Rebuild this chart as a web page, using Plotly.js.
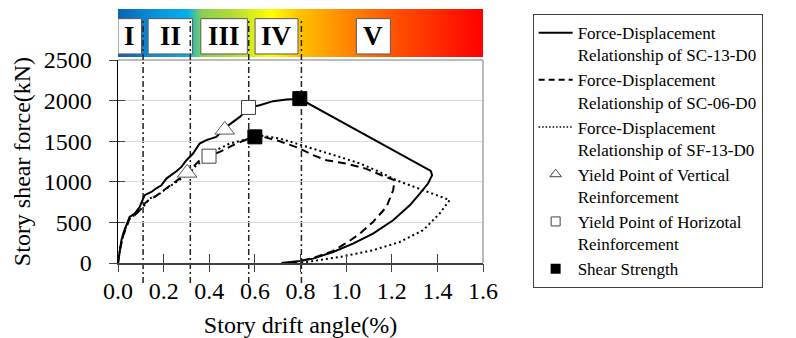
<!DOCTYPE html>
<html>
<head>
<meta charset="utf-8">
<script src="https://cdn.plot.ly/plotly-3.0.1.min.js"></script>
<style>html,body{margin:0;padding:0;background:#fff;}</style>
</head>
<body>
<div id="chart" style="width:796px;height:338px;"></div>
<script>
// ---- data ----
const sc13X = [0, 0.008, 0.015, 0.025, 0.037, 0.051, 0.073, 0.095, 0.117, 0.146, 0.168, 0.190, 0.212, 0.234, 0.256, 0.278, 0.300, 0.329, 0.358, 0.387, 0.431, 0.475, 0.534, 0.575, 0.621, 0.680, 0.738, 0.797, 1.371, 1.377, 1.359, 1.323, 1.279, 1.206, 1.118, 1.030, 0.943, 0.855, 0.797, 0.716];
const sc13Y = [0, 157, 280, 380, 465, 567, 609, 690, 835, 875, 920, 958, 1040, 1081, 1130, 1184, 1266, 1348, 1472, 1513, 1554, 1677, 1800, 1916, 1944, 1994, 2015, 2022, 1134, 1081, 979, 855, 711, 526, 362, 239, 136, 54, 25, 0];

const sc06X = [0, 0.010, 0.022, 0.037, 0.051, 0.073, 0.095, 0.117, 0.139, 0.161, 0.183, 0.212, 0.241, 0.270, 0.307, 0.329, 0.358, 0.402, 0.446, 0.504, 0.563, 0.600, 0.629, 0.709, 0.789, 0.855, 0.914, 1.001, 1.089, 1.147, 1.191, 1.213, 1.206, 1.177, 1.118, 1.060, 1.008, 0.943, 0.855, 0.760];
const sc06Y = [0, 180, 330, 444, 547, 588, 650, 732, 790, 814, 860, 917, 980, 1040, 1102, 1184, 1266, 1316, 1369, 1451, 1521, 1554, 1560, 1500, 1420, 1328, 1266, 1225, 1160, 1090, 1040, 1020, 896, 691, 506, 362, 259, 150, 60, 0];

const sf13X = [0, 0.010, 0.029, 0.051, 0.081, 0.110, 0.139, 0.175, 0.212, 0.270, 0.307, 0.344, 0.387, 0.431, 0.490, 0.578, 0.636, 0.709, 0.782, 0.870, 0.972, 1.061, 1.140, 1.220, 1.337, 1.454, 1.410, 1.337, 1.235, 1.118, 0.972, 0.800];
const sf13Y = [0, 197, 403, 547, 609, 690, 794, 835, 917, 1028, 1094, 1205, 1287, 1390, 1472, 1534, 1566, 1534, 1472, 1395, 1307, 1225, 1130, 1020, 896, 775, 609, 403, 259, 157, 74, 0];

const yieldVertX = [0.468, 0.303];
const yieldVertY = [1640, 1110];
const yieldHorzX = [0.572, 0.399];
const yieldHorzY = [1916, 1316];
const shearX = [0.797, 0.600];
const shearY = [2025, 1554];

const stageLabels = ['I', 'II', 'III', 'IV', 'V'];
const stageBoxX0 = [0.0, 0.132, 0.363, 0.601, 1.045];
const stageBoxX1 = [0.103, 0.327, 0.567, 0.789, 1.194];
const stageLines = [0.110, 0.317, 0.573, 0.804];

const legendNames = [
  'Force-Displacement<br>Relationship of SC-13-D0',
  'Force-Displacement<br>Relationship of SC-06-D0',
  'Force-Displacement<br>Relationship of SF-13-D0',
  'Yield Point of Vertical<br>Reinforcement',
  'Yield Point of Horizotal<br>Reinforcement',
  'Shear Strength'
];

const xTicks = [0, 0.2, 0.4, 0.6, 0.8, 1.0, 1.2, 1.4, 1.6];
const yTicks = [0, 500, 1000, 1500, 2000, 2500];

// ---- layout geometry ----
const FONT = 'Liberation Serif, Times New Roman, serif';
const mainTop = 0.799, barBottom = 0.811;
const boxY0 = 0.823, boxY1 = 0.962;
const lineTop = 0.957, lineBottom = -0.079;

const traces = [
  // gradient stage bar
  {x: [0, 1.6, 1.6, 0, 0], y: [0, 0, 1, 1, 0], xaxis: 'x', yaxis: 'y2', mode: 'none',
   fill: 'toself', fillcolor: '#ffc000',
   fillgradient: {type: 'horizontal', colorscale: [
     [0, '#0B62B4'], [0.10, '#0A90D8'], [0.19, '#00B0F0'], [0.23, '#8ACF52'],
     [0.32, '#B6DC36'], [0.42, '#FFFF00'], [0.50, '#FFC000'], [0.62, '#FF8A00'],
     [0.78, '#FF4A00'], [1, '#FF0000']]},
   hoverinfo: 'skip', showlegend: false},
  {x: sc13X, y: sc13Y, mode: 'lines', line: {color: '#000', width: 2}, showlegend: false, hoverinfo: 'skip'},
  {x: sc06X, y: sc06Y, mode: 'lines', line: {color: '#000', width: 2, dash: '8px,5px'}, showlegend: false, hoverinfo: 'skip'},
  {x: sf13X, y: sf13Y, mode: 'lines', line: {color: '#000', width: 2, dash: '2px,3px'}, showlegend: false, hoverinfo: 'skip'},
  {x: yieldVertX, y: yieldVertY, mode: 'markers', marker: {symbol: 'triangle-up', size: 17, color: '#fff', line: {color: '#595959', width: 1}}, showlegend: false, hoverinfo: 'skip'},
  {x: yieldHorzX, y: yieldHorzY, mode: 'markers', marker: {symbol: 'square', size: 14, color: '#fff', line: {color: '#404040', width: 1}}, showlegend: false, hoverinfo: 'skip'},
  {x: shearX, y: shearY, mode: 'markers', marker: {symbol: 'square', size: 14, color: '#000', line: {color: '#000', width: 1}}, showlegend: false, hoverinfo: 'skip'},
  // legend entries
  {x: [null], y: [null], mode: 'lines', name: legendNames[0], line: {color: '#000', width: 2}},
  {x: [null], y: [null], mode: 'lines', name: legendNames[1], line: {color: '#000', width: 2, dash: '6px,4px'}},
  {x: [null], y: [null], mode: 'lines', name: legendNames[2], line: {color: '#000', width: 1.5, dash: '1.5px,2px'}},
  {x: [null], y: [null], mode: 'markers', name: legendNames[3], marker: {symbol: 'triangle-up-open', size: 10, color: '#404040', line: {width: 1}}},
  {x: [null], y: [null], mode: 'markers', name: legendNames[4], marker: {symbol: 'square-open', size: 9, color: '#404040', line: {width: 1}}},
  {x: [null], y: [null], mode: 'markers', name: legendNames[5], marker: {symbol: 'square', size: 10, color: '#000'}},
  // carriers for crossing tick overlays
  {x: [null], y: [null], xaxis: 'x3', yaxis: 'y', showlegend: false, hoverinfo: 'skip'},
  {x: [null], y: [null], xaxis: 'x', yaxis: 'y3', showlegend: false, hoverinfo: 'skip'}
];

const shapes = [];
// plot frame (top and right, gray)
shapes.push({type: 'line', xref: 'paper', yref: 'paper', x0: 0, x1: 1, y0: mainTop, y1: mainTop, line: {color: '#a6a6a6', width: 1.5}, layer: 'above'});
shapes.push({type: 'line', xref: 'paper', yref: 'paper', x0: 1, x1: 1, y0: 0, y1: mainTop, line: {color: '#a6a6a6', width: 1.5}, layer: 'above'});
// stage boxes
for (let i = 0; i < stageLabels.length; i++) {
  shapes.push({type: 'rect', xref: 'x', yref: 'paper', x0: stageBoxX0[i], x1: stageBoxX1[i], y0: boxY0, y1: boxY1,
    fillcolor: '#fff', line: {color: '#595959', width: 1}, layer: 'above'});
}
// stage division lines
for (const sx of stageLines) {
  shapes.push({type: 'line', xref: 'x', yref: 'paper', x0: sx, x1: sx, y0: mainTop, y1: lineTop,
    line: {color: '#222', width: 1.5, dash: '6px,3px,2px,3px'}, layer: 'above'});
  shapes.push({type: 'line', xref: 'x', yref: 'paper', x0: sx, x1: sx, y0: lineBottom, y1: mainTop,
    line: {color: '#222', width: 1.5, dash: '6px,3px,2px,3px'}, layer: 'below'});
}

const annotations = stageLabels.map((t, i) => ({
  x: (stageBoxX0[i] + stageBoxX1[i]) / 2, xref: 'x', y: (boxY0 + boxY1) / 2, yref: 'paper',
  text: '<b>' + t + '</b>', showarrow: false, xanchor: 'center', yanchor: 'middle',
  font: {family: FONT, size: 27, color: '#000'}
}));

const layout = {
  width: 796, height: 338,
  margin: {l: 118, r: 313, t: 9, b: 75},
  paper_bgcolor: '#fff', plot_bgcolor: '#fff',
  showlegend: true,
  xaxis: {
    range: [0, 1.6], tickvals: xTicks, tickformat: '.1f', anchor: 'y',
    ticks: 'inside', ticklen: 9, tickcolor: '#404040', tickwidth: 1,
    showline: true, linecolor: '#404040', linewidth: 1.5,
    showgrid: false, zeroline: false, ticklabelstandoff: 6,
    tickfont: {family: FONT, size: 24, color: '#000'},
    title: {text: 'Story drift angle(%)', font: {family: FONT, size: 24, color: '#000'}, standoff: 17}
  },
  xaxis3: {
    range: [0, 1.6], tickvals: xTicks, overlaying: 'x', anchor: 'y', side: 'bottom',
    ticks: 'outside', ticklen: 8, tickcolor: '#404040', showticklabels: false,
    showline: false, showgrid: false, zeroline: false
  },
  yaxis: {
    domain: [0, mainTop], range: [0, 2500], tickvals: yTicks, anchor: 'x',
    ticks: 'outside', ticklen: 8, tickcolor: '#404040', tickwidth: 1,
    showline: true, linecolor: '#000', linewidth: 1.5,
    showgrid: true, gridcolor: '#d9d9d9', gridwidth: 1, zeroline: false,
    ticklabelstandoff: 12,
    tickfont: {family: FONT, size: 24, color: '#000'},
    title: {text: 'Story shear force(kN)', font: {family: FONT, size: 24, color: '#000'}, standoff: 6}
  },
  yaxis3: {
    domain: [0, mainTop], range: [0, 2500], tickvals: yTicks, overlaying: 'y', anchor: 'x', side: 'left',
    ticks: 'inside', ticklen: 7, tickcolor: '#404040', showticklabels: false,
    showline: false, showgrid: false, zeroline: false
  },
  yaxis2: {domain: [barBottom, 1], range: [0, 1], anchor: 'x', visible: false, fixedrange: true},
  legend: {
    x: 1.136, xanchor: 'left', y: 0.98, yanchor: 'top',
    font: {family: FONT, size: 17, color: '#000'},
    bgcolor: '#fff', bordercolor: '#404040', borderwidth: 1,
    itemwidth: 34, valign: 'top', tracegroupgap: 0, traceorder: 'normal',
    maxheight: 320
  },
  shapes: shapes,
  annotations: annotations
};

Plotly.newPlot('chart', traces, layout, {displayModeBar: false, staticPlot: true});
</script>
</body>
</html>
